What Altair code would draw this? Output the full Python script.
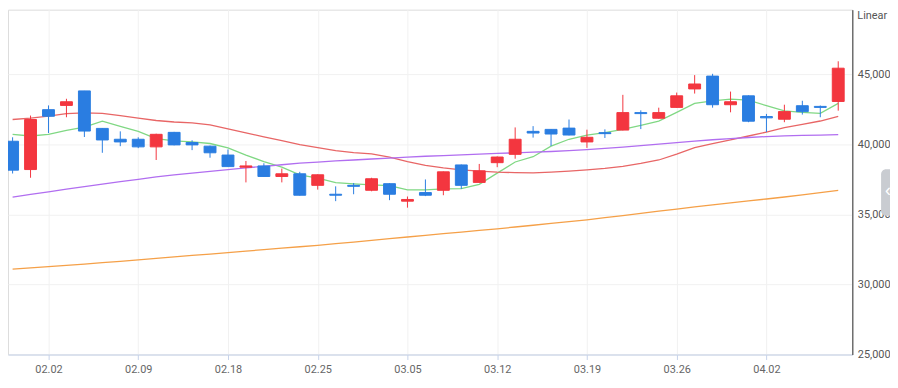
import altair as alt
import pandas as pd

# ---- data ----
dates = ["01.29", "01.30", "02.02", "02.03", "02.04", "02.05", "02.06", "02.09", "02.10", "02.11",
         "02.12", "02.13", "02.18", "02.19", "02.20", "02.23", "02.24", "02.25", "02.26", "02.27",
         "03.03", "03.04", "03.05", "03.06", "03.09", "03.10", "03.11", "03.12", "03.13", "03.16",
         "03.17", "03.18", "03.19", "03.20", "03.23", "03.24", "03.25", "03.26", "03.27", "03.30",
         "03.31", "04.01", "04.02", "04.03", "04.06", "04.07", "04.08"]

opens = [40213, 38193, 42466, 42768, 43803, 41128, 40354, 40354, 39811, 40846,
         40121, 39861, 39227, 38361, 38453, 37700, 37890, 37066, 36432, 37066,
         36714, 37186, 35940, 36552, 36713, 38523, 37277, 38685, 39276, 40917,
         41058, 41149, 40163, 40825, 41008, 42254, 41853, 42627, 43944, 44859,
         42818, 43451, 41973, 41783, 42747, 42698, 43050]
highs = [40494, 42043, 42768, 43240, 43803, 41150, 40917, 40494, 40750, 40880,
         40283, 39900, 39629, 38805, 38643, 38263, 38030, 37850, 36996, 37235,
         37608, 37220, 36270, 37488, 38050, 38550, 38594, 39130, 41198, 41290,
         41080, 41762, 41036, 41058, 43522, 42416, 42606, 43683, 44930, 45021,
         43754, 43480, 42163, 42818, 43099, 42760, 45915]
lows = [37911, 37608, 40797, 41924, 40516, 39389, 39861, 39720, 38875, 39920,
        39579, 39037, 38380, 37277, 37680, 37277, 36340, 36763, 35940, 36432,
        36643, 36010, 35475, 36300, 36362, 36813, 37250, 38361, 38967, 40473,
        39882, 40630, 39741, 40445, 40980, 41079, 41830, 42600, 43613, 42606,
        42276, 41571, 40868, 41571, 42114, 41924, 42395]
closes = [38150, 41762, 41994, 43029, 40938, 40304, 40163, 39811, 40706, 39953,
          39953, 39389, 38404, 38453, 37700, 37890, 36362, 37819, 36362, 36996,
          37538, 36432, 36059, 36362, 38030, 37066, 38100, 39086, 40354, 40797,
          40727, 40656, 40494, 40755, 42254, 42184, 42254, 43451, 44296, 42818,
          43029, 41642, 41881, 42325, 42325, 42627, 45422]

ma5 = [40706, 40586, 40706, 40987, 41220, 41642, 41269, 40917, 40403, 40234,
       40164, 40051, 39741, 39227, 38756, 38361, 37819, 37587, 37256, 37165,
       37094, 37045, 36742, 36742, 36812, 36834, 37137, 37939, 38734, 39108,
       39861, 40354, 40656, 40825, 41058, 41339, 41642, 42276, 42909, 43099,
       43219, 43148, 42747, 42374, 42276, 42205, 42909]
ma20 = [41762, 41867, 42008, 42184, 42240, 42198, 42043, 41867, 41691, 41586,
        41515, 41374, 41093, 40811, 40530, 40248, 39966, 39755, 39544, 39403,
        39319, 39086, 38756, 38488, 38312, 38171, 38080, 38009, 37974, 37960,
        38009, 38080, 38171, 38277, 38418, 38629, 38875, 39298, 39755, 40051,
        40318, 40586, 40868, 41177, 41410, 41656, 41994]
ma60 = [36228, 36418, 36608, 36791, 36974, 37150, 37326, 37495, 37678, 37812,
        37939, 38066, 38192, 38312, 38425, 38537, 38650, 38727, 38805, 38875,
        38946, 39016, 39086, 39143, 39192, 39241, 39291, 39340, 39389, 39438,
        39481, 39544, 39621, 39706, 39790, 39896, 40002, 40121, 40227, 40318,
        40403, 40480, 40544, 40593, 40628, 40656, 40677]
ma120 = [31096, 31188, 31272, 31364, 31455, 31554, 31652, 31758, 31856, 31962,
         32067, 32166, 32272, 32378, 32476, 32582, 32688, 32793, 32913, 33025,
         33145, 33265, 33384, 33497, 33617, 33729, 33849, 33968, 34095, 34222,
         34349, 34475, 34609, 34757, 34912, 35067, 35222, 35376, 35531, 35672,
         35813, 35954, 36094, 36235, 36390, 36552, 36714]

tick_idx = [2, 7, 12, 17, 22, 27, 32, 37, 42]
y_ticks = [25000, 30000, 35000, 40000, 45000]
series_names = ["ma120", "ma60", "ma20", "ma5"]
series_colors = ["#f5a048", "#b16ef0", "#e86666", "#80d884"]
up_color = "#f3363f"
down_color = "#2a7de1"

# ---- tables ----
n = len(dates)
candles = pd.DataFrame({"i": list(range(n)), "date": dates, "open": opens, "high": highs,
                        "low": lows, "close": closes})

ma_rows = []
for name, vals in zip(["ma5", "ma20", "ma60", "ma120"], [ma5, ma20, ma60, ma120]):
    for k, v in enumerate(vals):
        ma_rows.append({"i": k, "series": name, "value": v})
mas = pd.DataFrame(ma_rows)

x_scale = alt.Scale(domain=[0.02, 46.51], nice=False, zero=False)
y_scale = alt.Scale(domain=[25000, 49597], nice=False, zero=False)

label_expr = "[" + ",".join("'%s'" % d for d in dates) + "][datum.value]"
x_axis = alt.Axis(values=tick_idx, labelExpr=label_expr, title=None, grid=True,
                  gridColor="#f1f1f1", domainColor="#c6d2ea", tickColor="#c6d2ea",
                  tickSize=5, labelColor="#666666", labelFont="Roboto", labelFontSize=11,
                  labelPadding=4, labelFlush=False)
y_axis = alt.Axis(orient="right", values=y_ticks, format=",d", title=None, grid=True,
                  gridColor="#f1f1f1", domainColor="#333333", ticks=False,
                  labelColor="#555555", labelFont="Roboto", labelFontSize=11,
                  labelPadding=5)

dir_color = alt.condition("datum.close > datum.open", alt.value(up_color), alt.value(down_color))

lines = alt.Chart(mas).mark_line(strokeWidth=1.3, clip=True).encode(
    x=alt.X("i:Q", scale=x_scale, axis=x_axis),
    y=alt.Y("value:Q", scale=y_scale, axis=y_axis),
    color=alt.Color("series:N", scale=alt.Scale(domain=series_names, range=series_colors),
                    legend=None, sort=series_names),
    order=alt.Order("i:Q"),
)

wicks = alt.Chart(candles).mark_rule(strokeWidth=1, clip=True).encode(
    x=alt.X("i:Q", scale=x_scale, axis=x_axis),
    y=alt.Y("low:Q", scale=y_scale, axis=y_axis),
    y2="high:Q",
    stroke=dir_color,
)

bodies = alt.Chart(candles).mark_bar(size=12, strokeWidth=1, clip=True).encode(
    x=alt.X("i:Q", scale=x_scale, axis=x_axis),
    y=alt.Y("open:Q", scale=y_scale, axis=y_axis),
    y2="close:Q",
    fill=dir_color,
    stroke=dir_color,
)

one = pd.DataFrame({"a": [0]})
linear_txt = alt.Chart(one).mark_text(text="Linear", font="Roboto", fontSize=11,
                                      color="#555555", align="left",
                                      baseline="alphabetic").encode(
    x=alt.value(857), y=alt.value(9))
tab = alt.Chart(one).mark_rect(color="#c9ccd1", cornerRadius=5).encode(
    x=alt.value(881), x2=alt.value(900), y=alt.value(161), y2=alt.value(208))
chev = alt.Chart(one).mark_text(text="‹", color="white", fontSize=18, align="center",
                                baseline="middle").encode(
    x=alt.value(888), y=alt.value(183))

chart = alt.layer(lines, wicks, bodies, linear_txt, tab, chev).properties(
    width=852, height=348,
    autosize=alt.AutoSizeParams(type="none"),
    padding={"left": 0, "top": 0, "right": 38, "bottom": 22},
).configure_view(stroke=None).configure(background="white")

chart.save("out.html", embed_options={"renderer": "svg", "actions": False})
